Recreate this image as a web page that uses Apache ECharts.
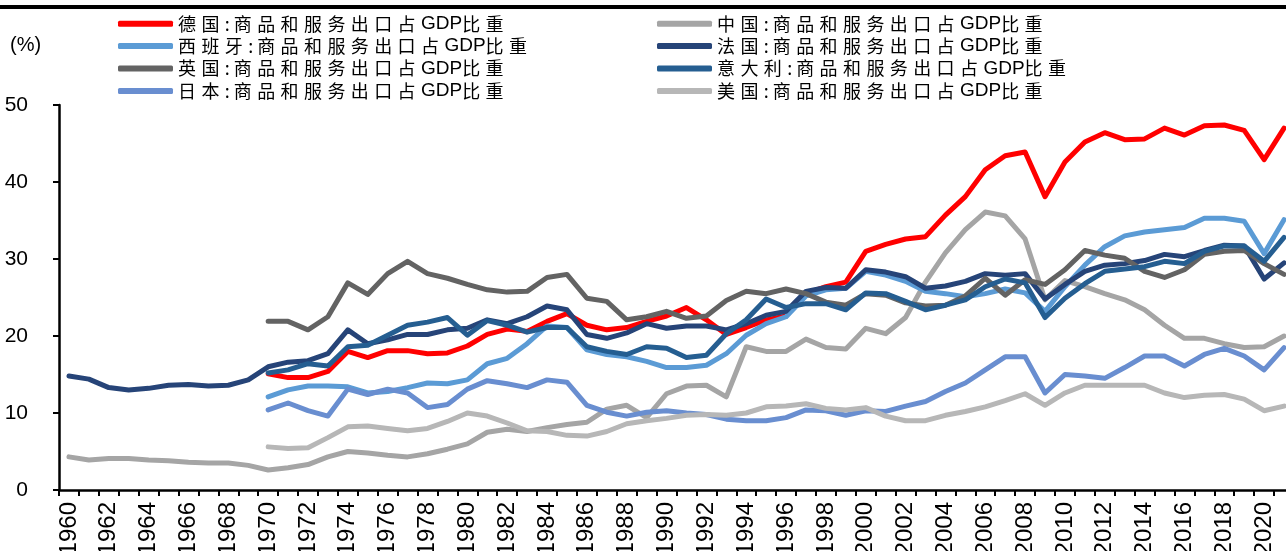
<!DOCTYPE html>
<html>
<head>
<meta charset="utf-8">
<script src="https://cdn.jsdelivr.net/npm/echarts@6/dist/echarts.min.js"></script>
<style>html,body{margin:0;padding:0;background:#fff;}#c{width:1286px;height:551px;}</style>
</head>
<body>
<div id="c"></div>
<script>
// ---- data ----
const years = [];
for (let y = 1960; y <= 2021; y++) years.push(String(y));
const pad10 = [null,null,null,null,null,null,null,null,null,null];

const germany = pad10.concat([15.1,14.6,14.6,15.4,18.0,17.2,18.1,18.1,17.7,17.8,
  18.7,20.2,20.9,20.6,21.9,22.9,21.4,20.8,21.1,21.9,
  22.6,23.7,22.1,20.2,21.1,22.1,22.6,25.5,26.4,27.0,
  31.0,31.9,32.6,32.9,35.7,38.1,41.6,43.4,43.9,38.1,
  42.6,45.2,46.4,45.5,45.6,47.0,46.1,47.3,47.4,46.7,42.9,47.0]);
const china = [4.3,3.9,4.1,4.1,3.9,3.8,3.6,3.5,3.5,3.2,
  2.6,2.9,3.3,4.3,5.0,4.8,4.5,4.3,4.7,5.3,
  6.0,7.5,7.9,7.6,8.1,8.5,8.8,10.5,11.0,9.4,
  12.5,13.5,13.6,12.1,18.6,18.0,18.0,19.6,18.5,18.3,
  21.0,20.3,22.4,27.0,30.8,33.8,36.1,35.6,32.6,24.7,
  27.2,26.4,25.5,24.7,23.4,21.4,19.7,19.7,19.0,18.5,18.6,20.0];
const spain = pad10.concat([12.1,13.0,13.5,13.5,13.4,12.6,12.8,13.3,13.9,13.8,
  14.3,16.4,17.1,19.0,21.3,21.1,18.2,17.6,17.3,16.7,
  15.9,15.9,16.2,17.7,20.1,21.6,22.5,25.2,26.0,26.2,
  28.4,27.9,27.1,25.8,25.5,25.1,25.5,26.1,25.6,23.2,
  26.4,29.2,31.6,33.0,33.5,33.8,34.1,35.3,35.3,34.9,30.7,35.1]);
const france = [14.8,14.4,13.3,13.0,13.2,13.6,13.7,13.5,13.6,14.3,
  16.0,16.6,16.8,17.7,20.8,19.0,19.5,20.2,20.2,20.8,
  21.0,22.1,21.6,22.5,23.9,23.4,20.2,19.7,20.4,21.6,
  21.0,21.3,21.3,20.8,21.6,22.7,23.2,25.8,26.3,26.2,
  28.6,28.3,27.7,26.2,26.5,27.1,28.1,27.9,28.1,24.8,
  26.7,28.4,29.2,29.4,29.8,30.6,30.3,31.1,31.8,31.7,27.4,29.5];
const uk = pad10.concat([21.9,21.9,20.8,22.5,26.9,25.4,28.1,29.7,28.1,27.5,
  26.7,26.0,25.7,25.8,27.6,28.0,24.9,24.5,22.1,22.5,
  23.2,22.3,22.6,24.6,25.8,25.5,26.1,25.5,24.4,24.0,
  25.5,25.3,24.3,23.9,24.0,25.2,27.5,25.3,27.3,26.7,
  28.6,31.1,30.5,30.1,28.4,27.6,28.6,30.6,31.0,31.1,29.4,28.0]);
const italy = pad10.concat([15.2,15.6,16.4,16.1,18.6,18.8,20.1,21.4,21.8,22.4,
  20.1,22.0,21.4,20.5,21.1,21.1,18.6,18.0,17.6,18.6,
  18.4,17.2,17.5,20.3,22.1,24.8,23.7,24.2,24.2,23.4,
  25.6,25.5,24.5,23.4,24.0,24.7,26.4,27.4,26.9,22.4,
  24.9,26.8,28.4,28.7,29.0,29.7,29.4,31.0,31.7,31.7,29.7,32.8]);
const japan = pad10.concat([10.4,11.3,10.3,9.6,13.1,12.4,13.1,12.6,10.7,11.1,
  13.1,14.2,13.8,13.3,14.3,14.0,11.0,10.1,9.6,10.1,
  10.3,10.0,9.8,9.2,9.0,9.0,9.4,10.4,10.3,9.7,
  10.3,10.2,10.9,11.5,12.8,13.9,15.6,17.3,17.3,12.6,
  15.0,14.8,14.5,15.9,17.4,17.4,16.1,17.6,18.4,17.4,15.6,18.5]);
const usa = pad10.concat([5.6,5.4,5.5,6.8,8.2,8.3,8.0,7.7,8.0,8.9,
  10.0,9.6,8.7,7.7,7.6,7.1,7.0,7.6,8.6,9.0,
  9.3,9.7,9.8,9.7,10.0,10.8,10.9,11.2,10.6,10.4,
  10.7,9.6,9.0,9.0,9.7,10.2,10.8,11.6,12.5,11.0,
  12.6,13.6,13.6,13.6,13.6,12.6,12.0,12.3,12.4,11.8,10.3,10.9]);

const yTicks = { min: 0, max: 50, interval: 10 };
const suffix = ':商品和服务出口占GDP比重';
const names = {
  de: '德国' + suffix, cn: '中国' + suffix, es: '西班牙' + suffix, fr: '法国' + suffix,
  uk: '英国' + suffix, it: '意大利' + suffix, jp: '日本' + suffix, us: '美国' + suffix
};
const colors = {
  de: '#FF0000', cn: '#A5A5A5', es: '#5B9BD5', fr: '#264478',
  uk: '#636363', it: '#255E91', jp: '#698ED0', us: '#B7B7B7'
};

// ---- chart ----
const chart = echarts.init(document.getElementById('c'), null, { renderer: 'canvas' });

function mk(key, data) {
  return {
    name: names[key], type: 'line', data: data, symbol: 'none', smooth: false,
    connectNulls: false,
    lineStyle: { color: colors[key], width: 5, cap: 'round', join: 'round' },
    itemStyle: { color: colors[key] },
    emphasis: { disabled: true }, animation: false
  };
}

// per-character rich text for spaced legend glyphs
const CJKW = 23.4;
function legendFmt(name) {
  let out = '';
  for (const ch of name) {
    if (/[A-Za-z]/.test(ch)) out += '{l|' + ch + '}';
    else if (ch === ':') out += '{p|:}';
    else out += '{c|' + ch + '}';
  }
  return out;
}
const rich = {
  c: { width: CJKW, fontSize: 18, fontFamily: 'Noto Sans CJK SC', color: '#000', lineHeight: 22.4 },
  p: { width: 9, fontSize: 18, fontFamily: 'Noto Sans CJK SC', color: '#000', lineHeight: 22.4 },
  l: { fontSize: 19, fontFamily: 'Liberation Sans', color: '#000', lineHeight: 22.4 }
};
function legend(left, keys) {
  return {
    orient: 'vertical', left: left, top: 7.5, itemGap: 0,
    itemWidth: 55, itemHeight: 6, icon: 'roundRect',
    data: keys.map(k => ({ name: names[k], itemStyle: { color: colors[k] } })),
    formatter: legendFmt,
    textStyle: { rich: rich, lineHeight: 22.4, fontSize: 18 },
    selectedMode: false
  };
}

const option = {
  backgroundColor: '#ffffff',
  animation: false,
  grid: { left: 59, right: -8, top: 105, bottom: 61, containLabel: false, outerBoundsMode: 'none' },
  legend: [
    legend(113, ['de', 'es', 'uk', 'jp']),
    legend(652, ['cn', 'fr', 'it', 'us'])
  ],
  xAxis: {
    type: 'category', data: years, boundaryGap: true,
    axisLine: { show: true, lineStyle: { color: '#000', width: 2.5 } },
    axisTick: { show: true, interval: 0, length: 6, lineStyle: { color: '#000', width: 2 } },
    axisLabel: { interval: 1, rotate: 90, fontSize: 24, fontFamily: 'Liberation Sans', color: '#000', margin: 12 },
    splitLine: { show: false }
  },
  yAxis: {
    type: 'value', min: yTicks.min, max: yTicks.max, interval: yTicks.interval,
    axisLine: { show: true, lineStyle: { color: '#000', width: 2.5 } },
    axisTick: { show: true, length: 6, lineStyle: { color: '#000', width: 2 } },
    axisLabel: { fontSize: 21, fontFamily: 'Liberation Sans', color: '#000', margin: 31 },
    splitLine: { show: false }
  },
  graphic: [
    { type: 'rect', left: 0, top: 5, shape: { width: 1286, height: 4 }, style: { fill: '#000' } },
    { type: 'text', left: 10, top: 35, style: { text: '(%)', fontSize: 20, fontFamily: 'Liberation Sans', fill: '#000' } }
  ],
  series: [
    mk('de', germany), mk('cn', china), mk('es', spain), mk('fr', france),
    mk('uk', uk), mk('it', italy), mk('jp', japan), mk('us', usa)
  ]
};
chart.setOption(option);
</script>
</body>
</html>
